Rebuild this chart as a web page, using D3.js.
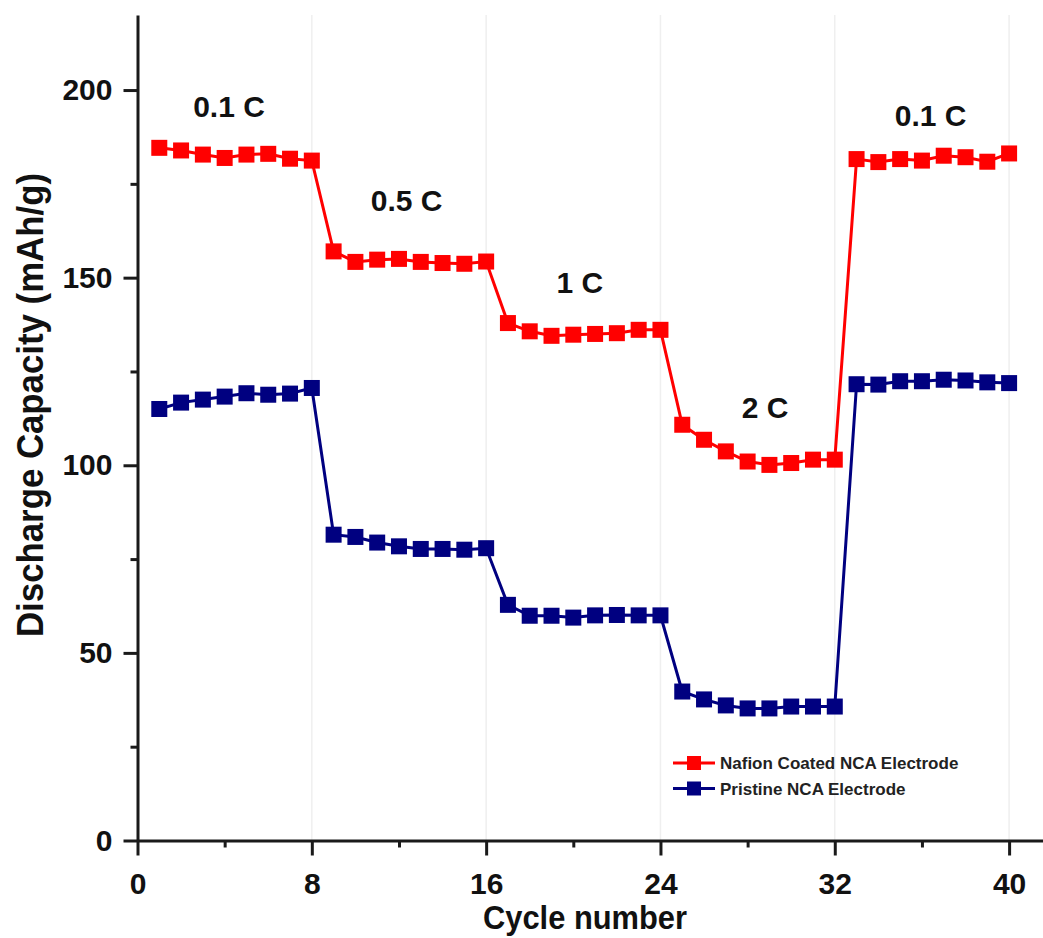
<!DOCTYPE html>
<html>
<head>
<meta charset="utf-8">
<script src="https://cdn.jsdelivr.net/npm/d3@7"></script>
<style>
    body { margin: 0; background: #fff; }
    text { font-family: "Liberation Sans", Arial, sans-serif; font-weight: bold; fill: #111; }
</style>
</head>
<body>
<div class="chart"></div>
<script>
// cycle numbers and discharge capacities (mAh/g)
var cycles = [1, 2, 3, 4, 5, 6, 7, 8, 9, 10, 11, 12, 13, 14, 15, 16, 17, 18, 19, 20,
    21, 22, 23, 24, 25, 26, 27, 28, 29, 30, 31, 32, 33, 34, 35, 36, 37, 38, 39, 40];
var nafion = [184.6, 183.9, 182.8, 181.9, 182.8, 183.0, 181.7, 181.2,
    157.0, 154.2, 154.8, 155.0, 154.2, 153.9, 153.7, 154.3,
    137.9, 135.7, 134.5, 134.8, 135.0, 135.2, 136.1, 136.1,
    110.8, 106.8, 103.7, 101.0, 100.1, 100.6, 101.5, 101.5,
    181.6, 180.8, 181.6, 181.2, 182.5, 182.1, 180.9, 183.1];
var pristine = [115.0, 116.7, 117.5, 118.3, 119.2, 118.8, 119.1, 120.6,
    81.5, 80.9, 79.4, 78.4, 77.7, 77.7, 77.5, 77.9,
    62.8, 59.9, 59.9, 59.4, 60.0, 60.1, 60.0, 60.0,
    39.7, 37.6, 36.0, 35.2, 35.2, 35.7, 35.7, 35.7,
    121.6, 121.5, 122.4, 122.4, 122.8, 122.6, 122.1, 121.9];
var seriesNames = ["Nafion Coated NCA Electrode", "Pristine NCA Electrode"];
var rateLabels = ["0.1 C", "0.5 C", "1 C", "2 C", "0.1 C"];
var rateCycle = [4.2, 12.35, 20.3, 28.8, 36.4];
var rateCap = [192.7, 167.7, 146, 112.5, 190.3];
var xMajor = [0, 8, 16, 24, 32, 40];
var xMinor = [4, 12, 20, 28, 36];
var yMajor = [0, 50, 100, 150, 200];
var yMinor = [25, 75, 125, 175];

var width = 1043, height = 938;
var colors = ["#ff0000", "#000080"];

var svg = d3.select(".chart")
    .append("svg")
    .attr("width", width)
    .attr("height", height);

var x = d3.scaleLinear().domain([0, 42]).range([137.5, 137.5 + 42 * 21.79]);
var y = d3.scaleLinear().domain([0, 220]).range([840.5, 15]);

// light vertical grid
svg.append("g")
    .selectAll("line")
    .data(xMajor.slice(1))
    .enter()
    .append("line")
    .attr("x1", (d) => x(d))
    .attr("x2", (d) => x(d))
    .attr("y1", y(220))
    .attr("y2", y(0))
    .style("stroke", "#efefef")
    .style("stroke-width", "1.5px");

// minor ticks first, major axis on top
var xMinorAxis = svg.append("g")
    .attr("transform", `translate(0,${y(0)})`)
    .call(d3.axisBottom(x).tickValues(xMinor).tickSize(7).tickFormat(""));
var yMinorAxis = svg.append("g")
    .attr("transform", `translate(${x(0)},0)`)
    .call(d3.axisLeft(y).tickValues(yMinor).tickSize(7).tickFormat(""));
[xMinorAxis, yMinorAxis].forEach((g) => g.select(".domain").remove());

var xAxis = svg.append("g")
    .attr("transform", `translate(0,${y(0)})`)
    .call(d3.axisBottom(x).tickValues(xMajor).tickSizeInner(15).tickSizeOuter(0).tickPadding(17));
var yAxis = svg.append("g")
    .attr("transform", `translate(${x(0)},0)`)
    .call(d3.axisLeft(y).tickValues(yMajor).tickSizeInner(14).tickSizeOuter(0).tickPadding(11));

svg.selectAll(".domain, .tick line")
    .style("stroke", "#1a1a1a")
    .style("stroke-width", "3px");
svg.selectAll(".tick text")
    .style("font-size", "30px")
    .style("font-family", "'Liberation Sans', Arial, sans-serif")
    .style("font-weight", "bold")
    .style("fill", "#111");

// axis titles
svg.append("text")
    .attr("x", 585)
    .attr("y", 929)
    .attr("text-anchor", "middle")
    .attr("textLength", 204)
    .attr("lengthAdjust", "spacingAndGlyphs")
    .style("font-size", "34px")
    .text("Cycle number");

svg.append("text")
    .attr("transform", "translate(43,405) rotate(-90)")
    .attr("text-anchor", "middle")
    .attr("textLength", 464)
    .attr("lengthAdjust", "spacingAndGlyphs")
    .style("font-size", "36px")
    .text("Discharge Capacity (mAh/g)");

// series
var series = [nafion, pristine];
var line = d3.line()
    .x((d, i) => x(cycles[i]))
    .y((d) => y(d));

series.forEach((values, k) => {
    var g = svg.append("g");
    g.append("path")
        .datum(values)
        .attr("d", line)
        .style("fill", "none")
        .style("stroke", colors[k])
        .style("stroke-width", "3px");
    g.selectAll("rect")
        .data(values)
        .enter()
        .append("rect")
        .attr("x", (d, i) => x(cycles[i]) - 8)
        .attr("y", (d) => y(d) - 8)
        .attr("width", 16)
        .attr("height", 16)
        .style("fill", colors[k]);
});

// C-rate annotations
svg.append("g")
    .selectAll("text")
    .data(rateLabels)
    .enter()
    .append("text")
    .attr("x", (d, i) => x(rateCycle[i]))
    .attr("y", (d, i) => y(rateCap[i]))
    .attr("text-anchor", "middle")
    .style("font-size", "30px")
    .text((d) => d);

// legend
var legend = svg.append("g").attr("transform", "translate(673,763)");
seriesNames.forEach((name, k) => {
    var row = legend.append("g").attr("transform", `translate(0,${k * 25.5})`);
    row.append("line")
        .attr("x1", 0)
        .attr("x2", 42)
        .style("stroke", colors[k])
        .style("stroke-width", "3px");
    row.append("rect")
        .attr("x", 14)
        .attr("y", -7)
        .attr("width", 14)
        .attr("height", 14)
        .style("fill", colors[k]);
    row.append("text")
        .attr("x", 47)
        .attr("y", 6)
        .style("font-size", "17px")
        .style("fill", "#222")
        .text(name);
});
</script>
</body>
</html>
